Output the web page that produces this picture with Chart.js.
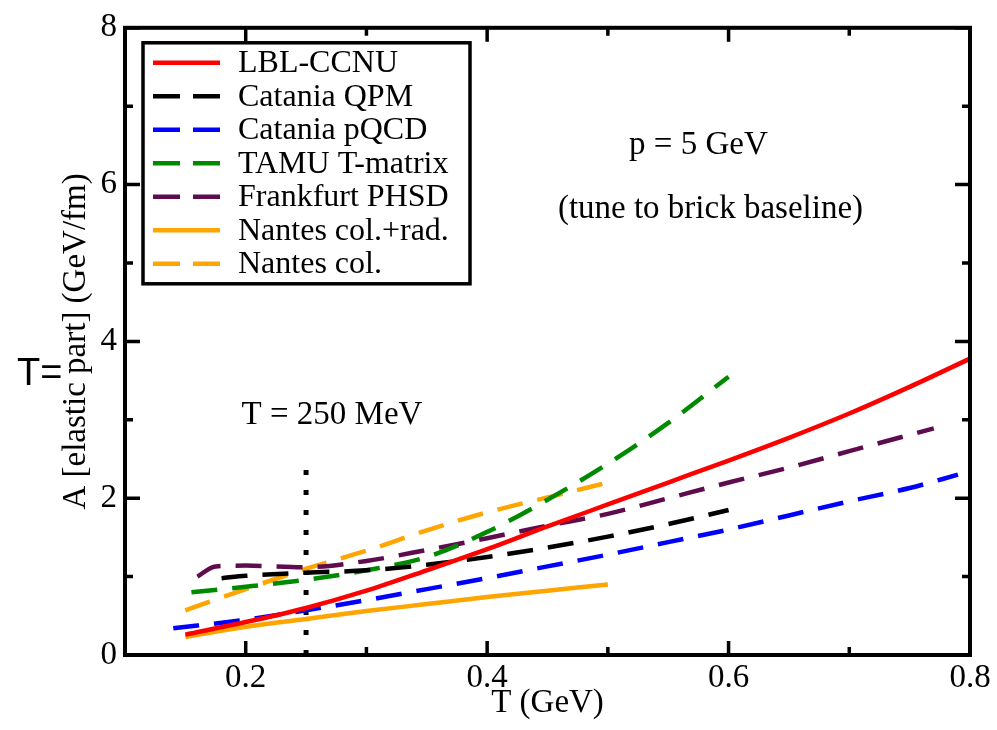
<!DOCTYPE html>
<html>
<head>
<meta charset="utf-8">
<script src="https://cdn.jsdelivr.net/npm/chart.js@4.4.1/dist/chart.umd.min.js"></script>
<style>
  html, body { margin: 0; padding: 0; background: #fff; }
  canvas { display: block; }
</style>
</head>
<body>
<canvas id="dragChart" width="997" height="730"></canvas>
<script>
const serif = "'Liberation Serif', 'Times New Roman', serif";

// temperature T (GeV) and elastic drag coefficient A (GeV/fm) for each model
const lblT = [0.15, 0.2, 0.25, 0.3, 0.35, 0.4, 0.45, 0.5, 0.55, 0.6, 0.65, 0.7, 0.75, 0.8];
const lblA = [0.26, 0.42, 0.6, 0.82, 1.08, 1.35, 1.64, 1.92, 2.2, 2.48, 2.77, 3.08, 3.42, 3.78];

const qpmT = [0.18, 0.2, 0.25, 0.3, 0.35, 0.4, 0.45, 0.5, 0.55, 0.6];
const qpmA = [0.98, 1.01, 1.05, 1.08, 1.15, 1.25, 1.37, 1.51, 1.67, 1.85];

const pqcdT = [0.14, 0.2, 0.25, 0.3, 0.35, 0.4, 0.45, 0.5, 0.55, 0.6, 0.65, 0.7, 0.75, 0.79];
const pqcdA = [0.34, 0.45, 0.57, 0.7, 0.84, 0.98, 1.13, 1.28, 1.44, 1.6, 1.78, 1.96, 2.13, 2.3];

const tamuT = [0.155, 0.2, 0.25, 0.3, 0.35, 0.4, 0.45, 0.5, 0.55, 0.6];
const tamuA = [0.8, 0.87, 0.96, 1.08, 1.25, 1.57, 1.98, 2.44, 2.96, 3.55];

const phsdT = [0.16, 0.175, 0.2, 0.25, 0.3, 0.35, 0.4, 0.45, 0.5, 0.55, 0.6, 0.65, 0.7, 0.77];
const phsdA = [1.0, 1.13, 1.14, 1.12, 1.2, 1.34, 1.49, 1.65, 1.8, 2.0, 2.2, 2.39, 2.6, 2.89];

const nantesRadT = [0.15, 0.2, 0.25, 0.3, 0.35, 0.4, 0.45, 0.5];
const nantesRadA = [0.23, 0.36, 0.46, 0.56, 0.65, 0.74, 0.82, 0.9];

const nantesColT = [0.15, 0.2, 0.25, 0.3, 0.35, 0.4, 0.45, 0.5];
const nantesColA = [0.57, 0.84, 1.1, 1.33, 1.59, 1.82, 2.01, 2.2];

// vertical marker at T = 250 MeV
const markerT = [0.25, 0.25];
const markerA = [0, 2.5];

const xMajor = [0.2, 0.4, 0.6, 0.8];
const xMinor = [0.3, 0.5, 0.7];
const yMajor = [0, 2, 4, 6, 8];
const yMinor = [1, 3, 5, 7];

const dashPattern = [26, 15];

function pts(ts, as) {
    return ts.map((t, i) => ({ x: t, y: as[i] }));
}

function curve(label, color, ts, as, dashed) {
    return {
        label: label,
        data: pts(ts, as),
        borderColor: color,
        backgroundColor: color,
        borderWidth: 4.5,
        borderDash: dashed ? dashPattern : [],
        borderCapStyle: 'butt',
        pointRadius: 0,
        cubicInterpolationMode: 'monotone',
        fill: false,
        dashed: dashed
    };
}

const datasets = [
    curve('LBL-CCNU', '#ff0000', lblT, lblA, false),
    curve('Catania QPM', '#000000', qpmT, qpmA, true),
    curve('Catania pQCD', '#0000ff', pqcdT, pqcdA, true),
    curve('TAMU T-matrix', '#008a00', tamuT, tamuA, true),
    curve('Frankfurt PHSD', '#5e0c4e', phsdT, phsdA, true),
    curve('Nantes col.+rad.', '#ffa500', nantesRadT, nantesRadA, false),
    curve('Nantes col.', '#ffa500', nantesColT, nantesColA, true),
    {
        data: pts(markerT, markerA),
        borderColor: '#000',
        borderWidth: 5,
        borderDash: [5, 15],
        borderCapStyle: 'butt',
        pointRadius: 0,
        fill: false,
        marker: true
    }
];

// frame with inward ticks, text notes and boxed legend
const decorPlugin = {
    id: 'decor',
    afterDatasetsDraw(chart) {
        const { ctx, chartArea: a, scales: { x, y } } = chart;
        ctx.save();
        ctx.strokeStyle = '#000';
        ctx.lineCap = 'butt';

        ctx.lineWidth = 3.5;
        ctx.beginPath();
        const xt = (vals, len) => vals.forEach(v => {
            const px = x.getPixelForValue(v);
            ctx.moveTo(px, a.bottom); ctx.lineTo(px, a.bottom - len);
            ctx.moveTo(px, a.top); ctx.lineTo(px, a.top + len);
        });
        const yt = (vals, len) => vals.forEach(v => {
            const py = y.getPixelForValue(v);
            ctx.moveTo(a.left, py); ctx.lineTo(a.left + len, py);
            ctx.moveTo(a.right, py); ctx.lineTo(a.right - len, py);
        });
        xt(xMajor, 14); xt(xMinor, 8);
        yt(yMajor, 15); yt(yMinor, 8);
        ctx.stroke();

        ctx.lineWidth = 4;
        ctx.strokeRect(a.left, a.top, a.right - a.left, a.bottom - a.top);

        // notes
        ctx.fillStyle = '#000';
        ctx.font = '33px ' + serif;
        ctx.textAlign = 'center';
        ctx.textBaseline = 'alphabetic';
        ctx.fillText('p = 5 GeV', x.getPixelForValue(0.575), y.getPixelForValue(6.39));
        ctx.fillText('(tune to brick baseline)', x.getPixelForValue(0.585), y.getPixelForValue(5.57));
        ctx.fillText('T = 250 MeV', x.getPixelForValue(0.2715), y.getPixelForValue(2.95));

        ctx.textAlign = 'left';
        ctx.font = "38px 'Liberation Sans', Arial, sans-serif";
        ctx.fillText('T=', 17, 385);

        // legend
        const lx = a.left + 18, ly = a.top + 15, lw = 327, lh = 241;
        ctx.fillStyle = '#fff';
        ctx.fillRect(lx, ly, lw, lh);
        ctx.lineWidth = 3.5;
        ctx.strokeRect(lx, ly, lw, lh);
        ctx.font = '32px ' + serif;
        ctx.textBaseline = 'middle';
        chart.data.datasets.filter(d => !d.marker).forEach((d, i) => {
            const cy = ly + 20 + i * 33.5;
            ctx.strokeStyle = d.borderColor;
            ctx.lineWidth = 4.5;
            ctx.setLineDash(d.dashed ? [27, 13] : []);
            ctx.beginPath();
            ctx.moveTo(lx + 10, cy);
            ctx.lineTo(lx + 77, cy);
            ctx.stroke();
            ctx.setLineDash([]);
            ctx.fillStyle = '#000';
            ctx.fillText(d.label, lx + 95, cy + 1);
        });
        ctx.restore();
    }
};

new Chart(document.getElementById('dragChart').getContext('2d'), {
    type: 'line',
    data: { datasets: datasets },
    options: {
        responsive: false,
        animation: false,
        layout: { padding: { top: 22, right: 27, left: 0, bottom: 0 } },
        plugins: {
            legend: { display: false },
            tooltip: { enabled: false }
        },
        scales: {
            x: {
                type: 'linear',
                min: 0.1,
                max: 0.8,
                afterBuildTicks: s => { s.ticks = xMajor.map(v => ({ value: v })); },
                afterFit: s => { s.height = 75; },
                grid: { display: false, drawTicks: false },
                border: { display: false },
                ticks: {
                    color: '#000',
                    padding: 4,
                    font: { family: serif, size: 33 },
                    callback: v => v.toFixed(1)
                },
                title: {
                    display: true,
                    text: 'T (GeV)',
                    color: '#000',
                    font: { family: serif, size: 33 },
                    padding: { top: 7, bottom: 7 }
                }
            },
            y: {
                type: 'linear',
                min: 0,
                max: 8,
                afterBuildTicks: s => { s.ticks = yMajor.map(v => ({ value: v })); },
                afterFit: s => { s.width = 125; },
                grid: { display: false, drawTicks: false },
                border: { display: false },
                ticks: {
                    color: '#000',
                    padding: 8,
                    font: { family: serif, size: 33 }
                },
                title: {
                    display: true,
                    text: 'A [elastic part] (GeV/fm)',
                    color: '#000',
                    font: { family: serif, size: 33 },
                    padding: { top: 57, bottom: 0 }
                }
            }
        }
    },
    plugins: [decorPlugin]
});
</script>
</body>
</html>
